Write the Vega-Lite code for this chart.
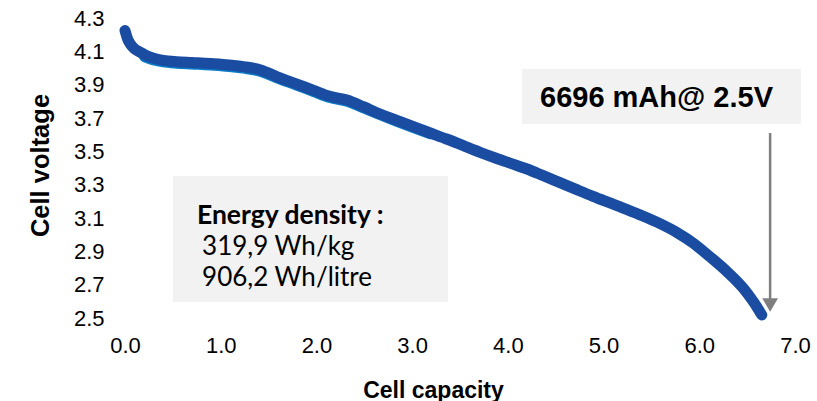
{
  "$schema": "https://vega.github.io/schema/vega-lite/v6.json",
  "width": 670,
  "height": 300,
  "autosize": {"type": "none"},
  "padding": {"left": 125, "top": 18, "right": 22, "bottom": 83},
  "background": "white",
  "config": {
    "view": {"stroke": null},
    "axis": {
      "domain": false, "ticks": false, "grid": false, "labelFlush": false, "labelOverlap": false,
      "labelFont": "Liberation Sans", "labelFontSize": 22, "labelColor": "#000000",
      "titleFont": "Liberation Sans", "titleFontSize": 23, "titleFontWeight": "bold", "titleColor": "#000000"
    }
  },
  "data": {"values": [{"note": "annotation"}]},
  "datasets": {
    "dark": [
      {"c": 0.00, "v": 4.225}, {"c": 0.03, "v": 4.170}, {"c": 0.06, "v": 4.140}, {"c": 0.10, "v": 4.115},
      {"c": 0.16, "v": 4.095}, {"c": 0.22, "v": 4.075}, {"c": 0.30, "v": 4.058}, {"c": 0.40, "v": 4.046},
      {"c": 0.54, "v": 4.038}, {"c": 0.70, "v": 4.033}, {"c": 0.89, "v": 4.027}, {"c": 1.05, "v": 4.020},
      {"c": 1.24, "v": 4.008}, {"c": 1.41, "v": 3.990}, {"c": 1.62, "v": 3.940}, {"c": 1.79, "v": 3.905},
      {"c": 1.97, "v": 3.866}, {"c": 2.14, "v": 3.830}, {"c": 2.32, "v": 3.808}, {"c": 2.49, "v": 3.768},
      {"c": 2.665, "v": 3.724}, {"c": 2.84, "v": 3.686}, {"c": 3.013, "v": 3.648}, {"c": 3.19, "v": 3.610},
      {"c": 3.36, "v": 3.574}, {"c": 3.535, "v": 3.534}, {"c": 3.71, "v": 3.494}, {"c": 3.87, "v": 3.460},
      {"c": 4.03, "v": 3.428}, {"c": 4.20, "v": 3.394}, {"c": 4.37, "v": 3.354}, {"c": 4.545, "v": 3.312},
      {"c": 4.72, "v": 3.270}, {"c": 4.89, "v": 3.230}, {"c": 5.06, "v": 3.192}, {"c": 5.24, "v": 3.152},
      {"c": 5.41, "v": 3.112}, {"c": 5.59, "v": 3.066}, {"c": 5.77, "v": 3.012}, {"c": 5.94, "v": 2.948},
      {"c": 6.11, "v": 2.868}, {"c": 6.29, "v": 2.778}, {"c": 6.46, "v": 2.678}, {"c": 6.55, "v": 2.610},
      {"c": 6.60, "v": 2.568}, {"c": 6.653, "v": 2.518}
    ],
    "light": [
      {"c": 0.20, "v": 4.066}, {"c": 0.30, "v": 4.046}, {"c": 0.40, "v": 4.034}, {"c": 0.54, "v": 4.026},
      {"c": 0.70, "v": 4.021}, {"c": 0.89, "v": 4.015}, {"c": 1.05, "v": 4.008}, {"c": 1.24, "v": 3.996},
      {"c": 1.41, "v": 3.978}, {"c": 1.62, "v": 3.930}, {"c": 1.79, "v": 3.895}, {"c": 1.97, "v": 3.856},
      {"c": 2.14, "v": 3.820}, {"c": 2.32, "v": 3.798}, {"c": 2.49, "v": 3.758}, {"c": 2.84, "v": 3.677},
      {"c": 3.19, "v": 3.602}
    ]
  },
  "layer": [
    {
      "mark": {"type": "rect", "color": "#f2f2f2"},
      "encoding": {
        "x": {"datum": 0.502, "type": "quantitative", "scale": {"domain": [0, 7], "nice": false, "zero": false},
          "axis": {"values": [0, 1, 2, 3, 4, 5, 6, 7], "tickCount": 20, "format": ".1f", "labelPadding": 17, "labelOverlap": false, "labelFlush": false,
            "title": "Cell capacity", "titleX": 308, "titleY": 79, "titleBaseline": "alphabetic", "titleAlign": "center"}},
        "x2": {"datum": 3.375},
        "y": {"datum": 2.596, "type": "quantitative", "scale": {"domain": [2.5, 4.3], "nice": false, "zero": false},
          "axis": {"values": [2.5, 2.7, 2.9, 3.1, 3.3, 3.5, 3.7, 3.9, 4.1, 4.3], "tickCount": 20, "format": ".1f", "labelPadding": 21,
            "labelOverlap": false, "labelFlush": false, "labelBound": false,
            "title": "Cell voltage", "titleFontSize": 25.5, "titleX": -85, "titleY": 147, "titleAngle": -90, "titleAlign": "center", "titleBaseline": "middle"}},
        "y2": {"datum": 3.352}
      }
    },
    {
      "mark": {"type": "rect", "color": "#f2f2f2"},
      "encoding": {
        "x": {"datum": 4.149, "type": "quantitative"},
        "x2": {"datum": 7.064},
        "y": {"datum": 3.664, "type": "quantitative"},
        "y2": {"datum": 3.994}
      }
    },
    {
      "data": {"name": "light"},
      "mark": {"type": "line", "color": "#0b7bc8", "strokeWidth": 10, "strokeCap": "round", "strokeJoin": "round", "interpolate": "monotone"},
      "encoding": {
        "x": {"field": "c", "type": "quantitative"},
        "y": {"field": "v", "type": "quantitative"}
      }
    },
    {
      "data": {"name": "dark"},
      "mark": {"type": "line", "color": "#1a4da1", "strokeWidth": 11, "strokeCap": "round", "strokeJoin": "round", "interpolate": "monotone"},
      "encoding": {
        "x": {"field": "c", "type": "quantitative"},
        "y": {"field": "v", "type": "quantitative"}
      }
    },
    {
      "mark": {"type": "rule", "color": "#7f7f7f", "strokeWidth": 2.5},
      "encoding": {
        "x": {"datum": 6.74, "type": "quantitative"},
        "y": {"datum": 3.61, "type": "quantitative"},
        "y2": {"datum": 2.58}
      }
    },
    {
      "mark": {"type": "point", "shape": "triangle-down", "filled": true, "color": "#7f7f7f", "opacity": 1, "size": 250},
      "encoding": {
        "x": {"datum": 6.74, "type": "quantitative"},
        "y": {"datum": 2.578, "type": "quantitative"}
      }
    },
    {
      "mark": {"type": "text", "text": "6696 mAh@ 2.5V", "font": "Liberation Sans", "fontWeight": "bold", "fontSize": 29, "align": "left", "baseline": "alphabetic", "color": "#000000"},
      "encoding": {
        "x": {"datum": 4.336, "type": "quantitative"},
        "y": {"datum": 3.766, "type": "quantitative"}
      }
    },
    {
      "mark": {"type": "text", "text": "Energy density :", "font": "Lato", "fontWeight": "bold", "fontSize": 26.5, "align": "left", "baseline": "alphabetic", "color": "#000000"},
      "encoding": {
        "x": {"datum": 0.752, "type": "quantitative"},
        "y": {"datum": 3.062, "type": "quantitative"}
      }
    },
    {
      "mark": {"type": "text", "text": "319,9 Wh/kg", "font": "Lato", "fontSize": 26, "align": "left", "baseline": "alphabetic", "color": "#000000"},
      "encoding": {
        "x": {"datum": 0.805, "type": "quantitative"},
        "y": {"datum": 2.880, "type": "quantitative"}
      }
    },
    {
      "mark": {"type": "text", "text": "906,2 Wh/litre", "font": "Lato", "fontSize": 26, "align": "left", "baseline": "alphabetic", "color": "#000000"},
      "encoding": {
        "x": {"datum": 0.805, "type": "quantitative"},
        "y": {"datum": 2.695, "type": "quantitative"}
      }
    }
  ]
}
